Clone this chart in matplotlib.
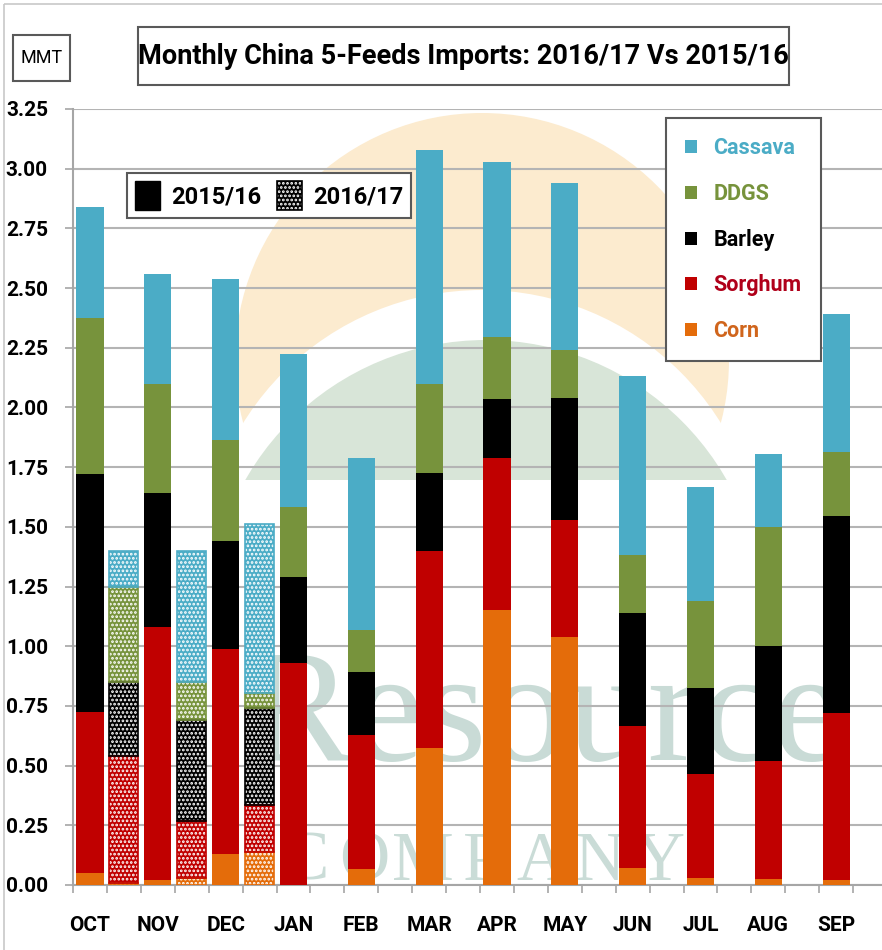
import numpy as np
import matplotlib
matplotlib.use('Agg')
import matplotlib.pyplot as plt
from matplotlib import font_manager
from matplotlib.patches import Rectangle, Circle, Patch
from matplotlib.legend_handler import HandlerTuple

# pick a narrow sans for the squeezed Calibri look
names = {f.name for f in font_manager.fontManager.ttflist}
FONT = 'Liberation Sans Narrow' if 'Liberation Sans Narrow' in names else 'Roboto'
plt.rcParams['font.family'] = [FONT, 'DejaVu Sans']
plt.rcParams['hatch.linewidth'] = 1.3

months = ['OCT', 'NOV', 'DEC', 'JAN', 'FEB', 'MAR', 'APR', 'MAY', 'JUN', 'JUL', 'AUG', 'SEP']
products = ['Corn', 'Sorghum', 'Barley', 'DDGS', 'Cassava']   # stacked bottom -> top
legend_order = ['Cassava', 'DDGS', 'Barley', 'Sorghum', 'Corn']
colors = {'Cassava': '#4BACC6', 'DDGS': '#77933C', 'Barley': '#000000',
          'Sorghum': '#C00000', 'Corn': '#E46C0A'}
text_colors = {'Cassava': '#4BACC6', 'DDGS': '#77933C', 'Barley': '#000000',
               'Sorghum': '#B0001A', 'Corn': '#D0651C'}

# 2015/16 monthly imports, MMT
corn_15 = [0.05, 0.02, 0.13, 0.00, 0.065, 0.575, 1.15, 1.04, 0.07, 0.03, 0.025, 0.02]
sorghum_15 = [0.675, 1.06, 0.86, 0.93, 0.565, 0.825, 0.64, 0.49, 0.595, 0.435, 0.495, 0.70]
barley_15 = [0.995, 0.56, 0.45, 0.36, 0.26, 0.325, 0.245, 0.51, 0.475, 0.36, 0.48, 0.825]
ddgs_15 = [0.655, 0.46, 0.425, 0.295, 0.18, 0.375, 0.26, 0.20, 0.24, 0.365, 0.50, 0.27]
cassava_15 = [0.465, 0.46, 0.675, 0.64, 0.72, 0.98, 0.735, 0.70, 0.75, 0.475, 0.305, 0.575]

# 2016/17 so far (OCT-DEC)
corn_16 = [0.01, 0.03, 0.14]
sorghum_16 = [0.53, 0.24, 0.195]
barley_16 = [0.31, 0.42, 0.405]
ddgs_16 = [0.40, 0.16, 0.065]
cassava_16 = [0.15, 0.55, 0.705]

series_15 = [corn_15, sorghum_15, barley_15, ddgs_15, cassava_15]
series_16 = [corn_16, sorghum_16, barley_16, ddgs_16, cassava_16]

W, H = 882, 950
fig = plt.figure(figsize=(W / 100, H / 100), dpi=100)

# background layer in pixel coords: frame, boxes, watermark
bg = fig.add_axes([0, 0, 1, 1], zorder=-1)
bg.set_xlim(0, W)
bg.set_ylim(H, 0)
bg.axis('off')
bg.add_patch(Rectangle((4, 4), W + 10, H + 10, fill=False, ec='#C8C8C8', lw=1.2))
bg.add_patch(Circle((482, 360), 247, fc='#FCEBCF', ec='none'))
bg.add_patch(Circle((482, 571), 281, fc='white', ec='none'))
hill = Circle((486, 617), 277, fc='#D8E5D8', ec='none')
bg.add_patch(hill)
clip = Rectangle((0, 0), W, 480, transform=bg.transData)
hill.set_clip_path(clip)
bg.text(245, 760, 'Resource', family='Liberation Serif', fontsize=116,
        color='#C9DBD6', va='baseline', ha='left')
for i, ch in enumerate('COMPANY'):
    bg.text(305 + i * 59, 880, ch, family='Liberation Serif', fontsize=50,
            color='#CADCD7', va='baseline', ha='center')

# title and unit boxes
bg.add_patch(Rectangle((138, 27), 651, 58, fill=False, ec='#595959', lw=1.5))
bg.text(463, 57, 'Monthly China 5-Feeds Imports: 2016/17 Vs 2015/16',
        fontsize=19.5, fontweight='bold', ha='center', va='center')
bg.add_patch(Rectangle((13, 35), 57, 46, fill=False, ec='#595959', lw=1.5))
bg.text(41.5, 58, 'MMT', fontsize=13, ha='center', va='center')

ax = fig.add_axes([73 / W, 1 - 885 / H, (887 - 73) / W, (885 - 109) / H])
ax.patch.set_alpha(0)

x15 = np.arange(len(months)) * 2
x16 = np.arange(len(corn_16)) * 2 + 1

bottom = np.zeros(len(months))
for name, vals in zip(products, series_15):
    ax.bar(x15, vals, 0.8, bottom=bottom, color=colors[name], zorder=3)
    bottom += np.array(vals)

bottom = np.zeros(len(corn_16))
for name, vals in zip(products, series_16):
    ax.bar(x16, vals, 0.85, bottom=bottom, color=colors[name], edgecolor='white',
           hatch='....', linewidth=0, zorder=3)
    ax.bar(x16, vals, 0.85, bottom=bottom, fill=False, edgecolor=colors[name],
           linewidth=1.2, zorder=4)
    bottom += np.array(vals)

ax.set_xlim(-0.5, 23.5)
ax.set_ylim(0, 3.25)
ax.set_yticks(np.arange(0, 3.26, 0.25))
ax.set_yticklabels(['%.2f' % v for v in np.arange(0, 3.26, 0.25)])
ax.set_xticks(x15)
ax.set_xticklabels(months)
ax.set_xticks(np.arange(-0.5, 24, 1), minor=True)
ax.tick_params(axis='x', which='major', length=0, pad=22, labelsize=15)
ax.tick_params(axis='x', which='minor', length=6, color='#A6A6A6', width=1.2)
ax.tick_params(axis='y', length=6, color='#A6A6A6', width=1.2, pad=12, labelsize=15)
for lab in ax.get_xticklabels() + ax.get_yticklabels():
    lab.set_fontweight('bold')
ax.grid(axis='y', color='#B4B4B4', lw=1.5, zorder=1)
ax.set_axisbelow(True)
for s in ['top', 'right']:
    ax.spines[s].set_visible(False)
for s in ['left', 'bottom']:
    ax.spines[s].set_color('#A6A6A6')
    ax.spines[s].set_linewidth(1.5)

# season legend
h_old = Patch(facecolor='black', edgecolor='black')
h_new = (Patch(facecolor='black', edgecolor='white', hatch='....', linewidth=0),
         Patch(fill=False, edgecolor='black', linewidth=1.2))
leg1 = ax.legend([h_old, h_new], ['2015/16', '2016/17'],
                 handler_map={tuple: HandlerTuple(ndivide=1, pad=0)},
                 ncol=2, loc='upper left', bbox_to_anchor=(127 / W, 1 - 173 / H),
                 bbox_transform=fig.transFigure, fancybox=False, framealpha=1,
                 edgecolor='#595959', prop={'size': 17, 'weight': 'bold'},
                 handlelength=1.05, handleheight=1.5, columnspacing=0.7,
                 handletextpad=0.45, borderpad=0.35, borderaxespad=0)
leg1.get_frame().set_linewidth(1.5)
ax.add_artist(leg1)

# product legend
handles = [Patch(facecolor=colors[n]) for n in legend_order]
leg2 = ax.legend(handles, legend_order, loc='upper left',
                 bbox_to_anchor=(666 / W, 1 - 118 / H), bbox_transform=fig.transFigure,
                 fancybox=False, framealpha=1, edgecolor='#595959',
                 prop={'size': 15.5, 'weight': 'bold'}, handlelength=0.55,
                 handleheight=0.55, handletextpad=0.75, labelspacing=1.1,
                 borderpad=0.9, borderaxespad=0,
                 labelcolor=[text_colors[n] for n in legend_order])
leg2.get_frame().set_linewidth(1.5)

fig.savefig('out.png', dpi=100)
